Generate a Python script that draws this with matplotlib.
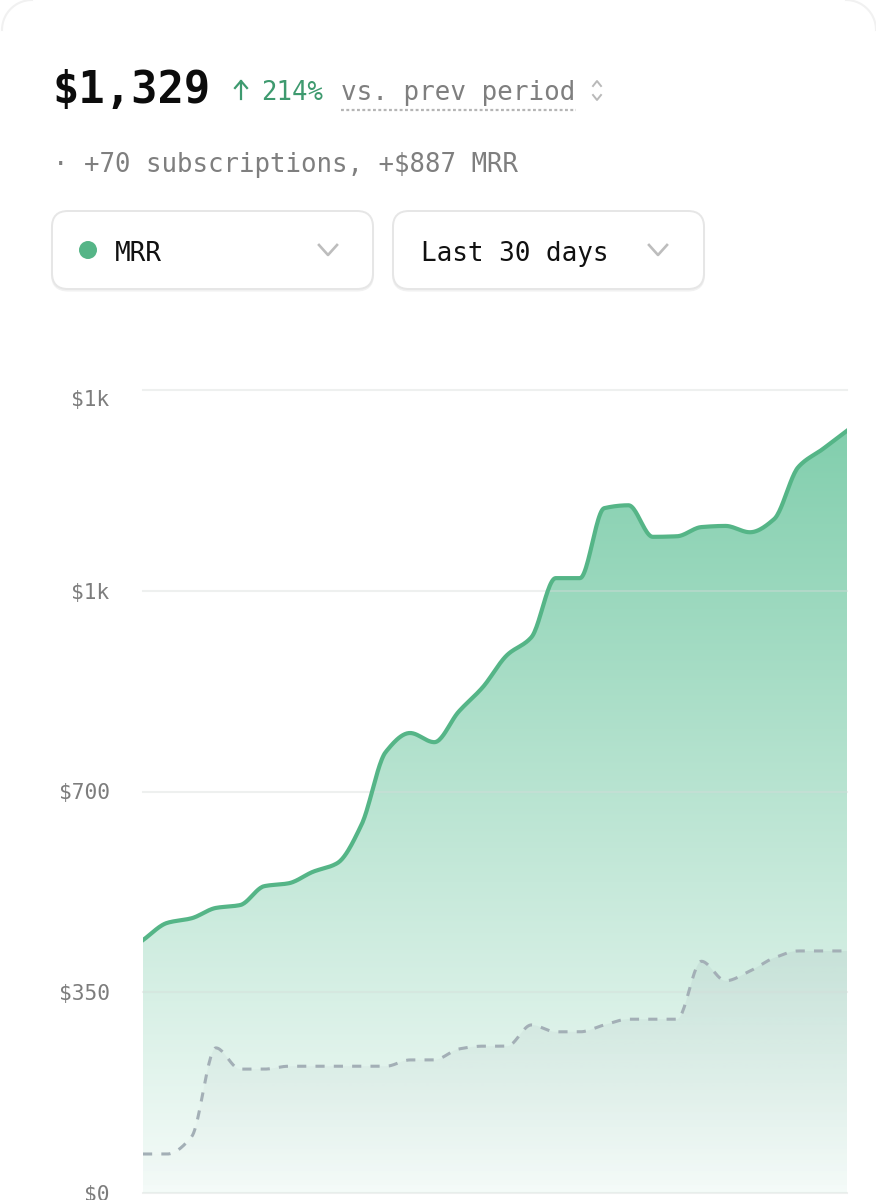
import numpy as np
import matplotlib
matplotlib.use('Agg')
import matplotlib.pyplot as plt
from matplotlib.patches import FancyBboxPatch, Circle

W, H = 876, 1200

mrr = [441, 471, 479, 497, 502, 535, 540, 560, 575, 642, 769, 802, 786, 839, 882,
       938, 969, 1072, 1072, 1194, 1199, 1144, 1145, 1161, 1163, 1152, 1175, 1266, 1297, 1329]
prev = [68, 68, 98, 253, 216, 216, 221, 221, 221, 221, 221, 232, 232, 251, 256,
        256, 293, 281, 281, 293, 303, 303, 303, 404, 370, 387, 410, 422, 422, 422]
y_ticks = [0, 350, 700, 1050, 1400]
y_labels = ['$0', '$350', '$700', '$1k', '$1k']

GREEN = '#55b587'
MONO = 'DejaVu Sans Mono'


def smooth(y, n=24):
    # monotone cubic through the daily values, the way the chart draws its curve
    y = np.array(y, dtype=float)
    x = np.arange(len(y), dtype=float)
    s = np.diff(y)
    m = np.zeros(len(y))
    for i in range(1, len(y) - 1):
        if s[i - 1] * s[i] > 0:
            m[i] = 2 * s[i - 1] * s[i] / (s[i - 1] + s[i])
    m[0] = s[0]
    m[-1] = s[-1]
    t = np.linspace(0, 1, n, endpoint=False)
    xs, ys = [], []
    for i in range(len(y) - 1):
        h00 = 2 * t**3 - 3 * t**2 + 1
        h10 = t**3 - 2 * t**2 + t
        h01 = -2 * t**3 + 3 * t**2
        h11 = t**3 - t**2
        xs.append(x[i] + t)
        ys.append(h00 * y[i] + h10 * m[i] + h01 * y[i + 1] + h11 * m[i + 1])
    return np.append(np.concatenate(xs), x[-1]), np.append(np.concatenate(ys), y[-1])


def gradient(ax, xs, ys, top, bottom, top_val, zorder):
    # vertical rgba ramp clipped to the area under the curve
    ramp = np.linspace(0, 1, 256)[:, None, None]
    img = np.array(top)[None, None, :] * (1 - ramp) + np.array(bottom)[None, None, :] * ramp
    im = ax.imshow(img, extent=[xs[0], xs[-1], 0, top_val], aspect='auto', zorder=zorder,
                   origin='upper', interpolation='bilinear')
    poly = ax.fill_between(xs, ys, 0, color='none', lw=0)
    im.set_clip_path(poly.get_paths()[0], transform=ax.transData)


fig = plt.figure(figsize=(W / 100, H / 100), dpi=100, facecolor='white')

# chart
ax = fig.add_axes([143 / W, 1 - 1193 / H, (847 - 143) / W, (1193 - 390) / H])
x1, y1 = smooth(mrr)
x2, y2 = smooth(prev)
gradient(ax, x1, y1, (0.51, 0.81, 0.68, 1), (0.96, 0.985, 0.975, 1), max(mrr), 1)
gradient(ax, x2, y2, (0.55, 0.6, 0.65, 0.13), (0.55, 0.6, 0.65, 0.0), max(prev), 2)
for v in y_ticks:
    ax.axhline(v, color='#d5dbd9', alpha=0.4, lw=1.5, zorder=3, clip_on=False)
ax.plot(x2, y2, color='#a3afb6', lw=2.2, ls=(0, (3, 3)), zorder=4)
ax.plot(x1, y1, color=GREEN, lw=3, zorder=5)
ax.set_xlim(0, len(mrr) - 1)
ax.set_ylim(0, 1400)
ax.set_xticks([])
ax.set_yticks(y_ticks)
ax.set_yticklabels(y_labels, family=MONO, fontsize=15.2, color='#7d7d7d')
ax.get_yticklabels()[-1].set_va('top')
ax.tick_params(axis='y', length=0, pad=24)
for s in ax.spines.values():
    s.set_visible(False)
ax.patch.set_visible(False)

# header and controls, in pixel coordinates
ui = fig.add_axes([0, 0, 1, 1], zorder=-1)
ui.set_xlim(0, W)
ui.set_ylim(H, 0)
ui.axis('off')

t = np.linspace(0, np.pi / 2, 30)
ui.plot(30 - 30 * np.cos(t) + 2, 30 - 30 * np.sin(t), color='#f1f1f1', lw=1.5)
ui.plot(846 + 30 * np.sin(t), 30 - 30 * np.cos(t), color='#f1f1f1', lw=1.5)

ui.text(52, 103, '$1,329', family=MONO, weight='bold', fontsize=31.5, color='#0c0c0c', va='baseline')
ui.text(261, 100, '214%', family=MONO, fontsize=18.5, color='#3e9a6f', va='baseline')
ui.text(341, 100, 'vs. prev period', family=MONO, fontsize=18.7, color='#7f7f7f', va='baseline')
ui.text(53, 172, '· +70 subscriptions, +$887 MRR', family=MONO, fontsize=18.5, color='#7f7f7f', va='baseline')

ui.plot([241, 241], [81, 99], color='#3e9a6f', lw=1.6)
ui.plot([235, 241, 247], [88, 81, 88], color='#3e9a6f', lw=1.6)
ui.plot([341, 576], [110, 110], color='#b5b5b5', lw=1.6, ls=(0, (1.3, 1.1)))
ui.plot([593, 597, 601], [86, 81, 86], color='#b9b9b9', lw=1.4)
ui.plot([593, 597, 601], [95, 100, 95], color='#b9b9b9', lw=1.4)

for left, right in [(52, 373), (393, 704)]:
    ui.add_patch(FancyBboxPatch((left + 16, 211 + 16 + 1.5), right - left - 32, 78 - 32,
                                boxstyle='round,pad=16', fc='#f1f1f1', ec='#f1f1f1', lw=1.5))
    ui.add_patch(FancyBboxPatch((left + 16, 211 + 16), right - left - 32, 78 - 32,
                                boxstyle='round,pad=16', fc='white', ec='#e6e6e6', lw=1.4))

ui.add_patch(Circle((88, 250), 9, fc=GREEN, ec='none', zorder=3))
ui.text(115, 261, 'MRR', family=MONO, fontsize=18.7, color='#111111', va='baseline', zorder=3)
ui.text(421, 261, 'Last 30 days', family=MONO, fontsize=18.7, color='#111111', va='baseline', zorder=3)
ui.plot([319, 328, 337], [245, 255, 245], color='#bdbdbd', lw=1.9, zorder=3)
ui.plot([649, 658, 667], [245, 255, 245], color='#bdbdbd', lw=1.9, zorder=3)

fig.savefig('out.png', dpi=100, facecolor='white')
